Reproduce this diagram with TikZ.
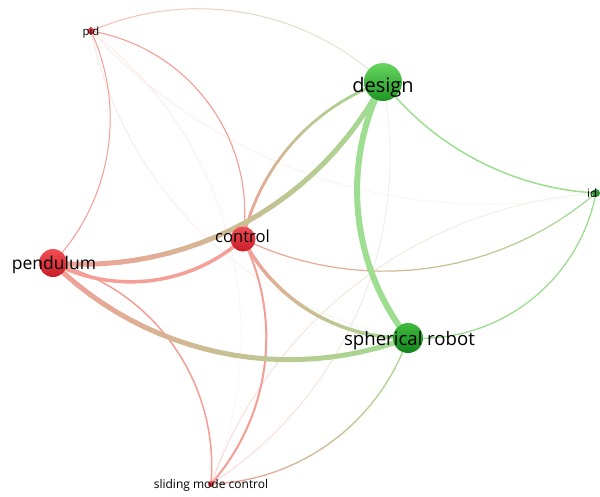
\documentclass[tikz,border=0pt]{standalone}
\usepackage{fontspec}
\setmainfont{Open Sans}
\usetikzlibrary{calc}
\definecolor{rc}{RGB}{245,158,150}
\definecolor{gc}{RGB}{158,222,145}
\definecolor{rlight}{RGB}{242,78,84}
\definecolor{rdark}{RGB}{200,28,40}
\definecolor{glight}{RGB}{104,214,96}
\definecolor{gdark}{RGB}{30,150,36}
\definecolor{sglight}{RGB}{62,186,62}
\definecolor{sgdark}{RGB}{20,132,30}
\pgfdeclarelayer{back}
\pgfdeclarelayer{edges}
\pgfsetlayers{back,edges,main}
% #1 from, #2 to, #3 arc angle (positive: bulge to the right of travel), #4 width, #5 colour at start, #6 colour at end
\newcommand\gedge[6]{%
  \pgfmathsetmacro\gff{2/3*tan((#3)/2)/sin(#3)}%
  \pgfmathsetmacro\gaa{-(#3)}%
  \pgfmathsetmacro\gbb{(#3)}%
  \path (#1.center) .. controls ($(#1.center)!\gff!\gaa:(#2.center)$) and ($(#2.center)!\gff!\gbb:(#1.center)$) .. (#2.center)
    \foreach \k in {0,...,24}{coordinate[pos=\k/24] (q\k)};
  \foreach \k [evaluate=\k as \j using int(\k-1), evaluate=\k as \p using int(100*(\k-0.5)/24)] in {1,...,24}{%
    \draw[line width=#4, line cap=round, draw={#6!\p!#5}] (q\j) -- (q\k);
  }%
}
\tikzset{
  term/.style={circle, inner sep=0pt, shading angle=35},
  redterm/.style={term, top color=rlight, bottom color=rdark},
  lbl/.style={inner sep=0pt, text=black, anchor=base},
}
\begin{document}
\begin{tikzpicture}[x=1pt, y=-1pt]
\useasboundingbox (0,0) rectangle (600,496);
\begin{pgfonlayer}{back}
\fill[white] (0,0) rectangle (600,496);
\end{pgfonlayer}
% nodes
\node[redterm, minimum size=7pt] (P) at (91,31) {};
\node[term, minimum size=38pt, top color=glight, bottom color=gdark] (D) at (383,82) {};
\node[term, minimum size=8pt, top color=sgdark!80!white, bottom color=sgdark] (I) at (596,193) {};
\node[redterm, minimum size=25pt] (C) at (243,239) {};
\node[redterm, minimum size=28pt] (N) at (53,263) {};
\node[term, minimum size=30pt, top color=sglight, bottom color=sgdark] (S) at (408,338) {};
\node[redterm, minimum size=6pt] (M) at (211,484) {};
% edges
\begin{pgfonlayer}{edges}
\gedge{P}{S}{34.3}{0.6}{rc!35!white}{gc!45!white}
\gedge{P}{I}{29.6}{0.6}{rc!30!white}{gc!35!white}
\gedge{P}{M}{-37.7}{0.6}{rc!30!white}{rc!30!white}
\gedge{M}{D}{34.1}{0.7}{rc!50!white}{gc!50!white}
\gedge{M}{I}{-33.2}{0.7}{rc!50!white}{gc!50!white}
\gedge{P}{D}{-33.4}{1}{rc!70!white}{gc!60!white}
\gedge{P}{N}{-34}{1}{rc}{rc}
\gedge{P}{C}{-44.2}{1.1}{rc}{rc}
\gedge{D}{I}{24.4}{1.5}{gc}{gc}
\gedge{S}{I}{41.5}{1.3}{gc}{gc}
\gedge{C}{I}{33.1}{1.2}{rc}{gc}
\gedge{M}{S}{34.4}{1.3}{rc}{gc}
\gedge{M}{N}{40.4}{1.5}{rc}{rc}
\gedge{M}{C}{34}{2}{rc}{rc}
\gedge{C}{D}{-28.8}{2.8}{rc}{gc}
\gedge{C}{S}{31.8}{3.5}{rc}{gc}
\gedge{N}{C}{34.5}{3.5}{rc}{rc}
\gedge{N}{S}{32.6}{5}{rc}{gc}
\gedge{N}{D}{33.7}{5}{rc}{gc}
\gedge{D}{S}{32.5}{6}{gc}{gc}
\end{pgfonlayer}
% labels
\node[lbl, font=\fontsize{11.3}{12}\selectfont] (tP) at (91,35) {pid};
\node[lbl, font=\fontsize{20}{22}\selectfont] (tD) at (383,92) {design};
\node[lbl, font=\fontsize{11.5}{12}\selectfont, anchor=base west] (tI) at (587,197) {id};
\node[lbl, font=\fontsize{16.6}{18}\selectfont] (tC) at (242.5,242) {control};
\node[lbl, font=\fontsize{17.5}{19}\selectfont] (tN) at (54,269) {pendulum};
\node[lbl, font=\fontsize{18.6}{20}\selectfont] (tS) at (409.5,345) {spherical robot};
\node[lbl, font=\fontsize{12}{13}\selectfont] (tM) at (211,488.5) {sliding mode control};
\end{tikzpicture}
\end{document}
